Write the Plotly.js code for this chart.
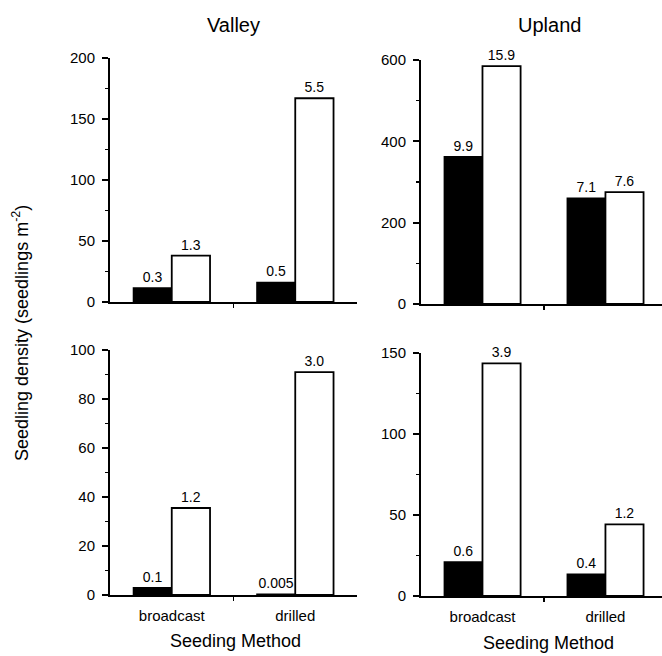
<!DOCTYPE html>
<html>
<head>
<meta charset="utf-8">
<script src="https://cdn.plot.ly/plotly-3.0.1.min.js"></script>
<style>html,body{margin:0;padding:0;background:#fff;}#chart{width:662px;height:656px;}</style>
</head>
<body>
<div id="chart"></div>
<script>
// ---- data ----
const categories = ['broadcast', 'drilled'];
const panelTitles = ['Valley', 'Upland'];

const valleyTopBlack = [11.5, 16];
const valleyTopBlackLabels = ['0.3', '0.5'];
const valleyTopWhite = [38, 167];
const valleyTopWhiteLabels = ['1.3', '5.5'];

const uplandTopBlack = [362, 260];
const uplandTopBlackLabels = ['9.9', '7.1'];
const uplandTopWhite = [585, 275];
const uplandTopWhiteLabels = ['15.9', '7.6'];

const valleyBotBlack = [3, 0.3];
const valleyBotBlackLabels = ['0.1', '0.005'];
const valleyBotWhite = [35.5, 91];
const valleyBotWhiteLabels = ['1.2', '3.0'];

const uplandBotBlack = [21, 13.4];
const uplandBotBlackLabels = ['0.6', '0.4'];
const uplandBotWhite = [143.6, 44.2];
const uplandBotWhiteLabels = ['3.9', '1.2'];

const yTitle = 'Seedling density (seedlings m<sup>-2</sup>)';
const xTitle = 'Seeding Method';

// ---- build ----
const FONT = 'Liberation Sans, Arial, Helvetica, sans-serif';
const xIdx = categories.map((c, i) => i);

function barPair(black, blackLab, white, whiteLab, xa, ya) {
  const common = {
    type: 'bar', x: xIdx, xaxis: xa, yaxis: ya,
    textposition: 'outside', texttemplate: '%{text}', cliponaxis: false,
    constraintext: 'none', hoverinfo: 'skip', showlegend: false,
    textfont: {family: FONT, size: 14, color: '#000'}
  };
  return [
    Object.assign({}, common, {y: black, text: blackLab,
      marker: {color: '#000', line: {color: '#000', width: 1.5}}}),
    Object.assign({}, common, {y: white, text: whiteLab,
      marker: {color: '#fff', line: {color: '#000', width: 1.8}}})
  ];
}

const data = [].concat(
  barPair(valleyTopBlack, valleyTopBlackLabels, valleyTopWhite, valleyTopWhiteLabels, 'x', 'y'),
  barPair(uplandTopBlack, uplandTopBlackLabels, uplandTopWhite, uplandTopWhiteLabels, 'x2', 'y2'),
  barPair(valleyBotBlack, valleyBotBlackLabels, valleyBotWhite, valleyBotWhiteLabels, 'x3', 'y3'),
  barPair(uplandBotBlack, uplandBotBlackLabels, uplandBotWhite, uplandBotWhiteLabels, 'x4', 'y4')
);

const W = 662, H = 656;
function xd(a, b) { return [a / W, b / W]; }
function yd(top, bot) { return [1 - bot / H, 1 - top / H]; }

function xAxis(dom, anchor, range, showLabels) {
  return {
    domain: dom, anchor: anchor, range: range, fixedrange: true,
    showgrid: false, zeroline: false, showline: true, linecolor: '#000', linewidth: 2,
    tickmode: 'array', tickvals: xIdx, ticktext: categories, showticklabels: showLabels,
    ticks: '', ticklabelstandoff: 6,
    tickfont: {family: FONT, size: 15, color: '#000'},
    minor: {tickmode: 'array', tickvals: [0.5], ticks: 'outside', ticklen: 4, tickwidth: 1.5, tickcolor: '#000'}
  };
}
function yAxis(dom, anchor, range, dtick, mdtick) {
  return {
    domain: dom, anchor: anchor, range: range, fixedrange: true,
    showgrid: false, zeroline: false, showline: true, linecolor: '#000', linewidth: 2,
    tickmode: 'linear', tick0: 0, dtick: dtick, ticks: 'outside', ticklen: 6, tickwidth: 2, tickcolor: '#000',
    ticklabelstandoff: 4,
    tickfont: {family: FONT, size: 15, color: '#000'},
    minor: {dtick: mdtick, ticks: 'outside', ticklen: 3, tickwidth: 1.5, tickcolor: '#000'}
  };
}

const layout = {
  width: W, height: H,
  margin: {l: 0, r: 0, t: 0, b: 0},
  paper_bgcolor: '#fff', plot_bgcolor: 'rgba(0,0,0,0)',
  barmode: 'group', bargap: 0.38, bargroupgap: 0,
  font: {family: FONT, color: '#000'},
  xaxis: xAxis(xd(110, 357), 'y', [-0.5, 1.5], false),
  yaxis: yAxis(yd(58, 302), 'x', [0, 200], 50, 25),
  xaxis2: xAxis(xd(421, 662), 'y2', [-0.5, 1.46], false),
  yaxis2: yAxis(yd(60, 304), 'x2', [0, 600], 200, 100),
  xaxis3: xAxis(xd(110, 357), 'y3', [-0.5, 1.5], true),
  yaxis3: yAxis(yd(350, 595), 'x3', [0, 100], 20, 10),
  xaxis4: xAxis(xd(421, 662), 'y4', [-0.5, 1.46], true),
  yaxis4: yAxis(yd(353, 596), 'x4', [0, 150], 50, 25),
  annotations: [
    {text: panelTitles[0], xref: 'paper', yref: 'paper', x: 233 / W, y: 1 - 25 / H, showarrow: false,
     font: {family: FONT, size: 20}, xanchor: 'center', yanchor: 'middle'},
    {text: panelTitles[1], xref: 'paper', yref: 'paper', x: 549 / W, y: 1 - 25 / H, showarrow: false,
     font: {family: FONT, size: 20}, xanchor: 'center', yanchor: 'middle'},
    {text: xTitle, xref: 'paper', yref: 'paper', x: 236 / W, y: 1 - 641 / H, showarrow: false,
     font: {family: FONT, size: 18}, xanchor: 'center', yanchor: 'middle'},
    {text: xTitle, xref: 'paper', yref: 'paper', x: 548 / W, y: 1 - 643 / H, showarrow: false,
     font: {family: FONT, size: 18}, xanchor: 'center', yanchor: 'middle'},
    {text: yTitle, xref: 'paper', yref: 'paper', x: 21 / W, y: 1 - 333 / H, showarrow: false,
     textangle: -90, font: {family: FONT, size: 18}, xanchor: 'center', yanchor: 'middle'}
  ]
};

Plotly.newPlot('chart', data, layout, {staticPlot: true, displayModeBar: false});
</script>
</body>
</html>
